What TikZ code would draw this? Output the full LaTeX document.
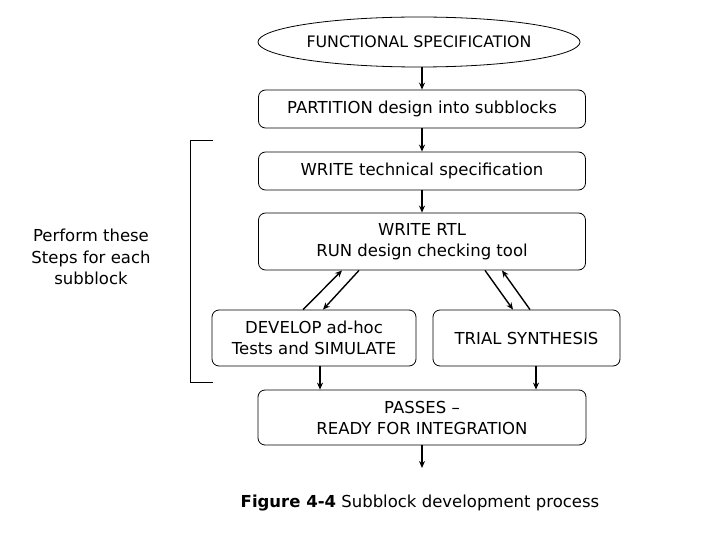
\documentclass[tikz,border=0pt]{standalone}
\usepackage{fontspec}
\setmainfont{DejaVu Sans}
\usetikzlibrary{shapes.geometric,arrows.meta}
\begin{document}
\begin{tikzpicture}[x=1pt,y=-1pt,
  box/.style={draw,rounded corners=7pt,line width=0.8pt,align=center,inner sep=0pt,font=\fontsize{16.5}{21}\selectfont},
  arr/.style={line width=1.4pt,-{Stealth[length=7pt,width=6pt]}},
  lbl/.style={align=center,font=\fontsize{16.5}{21.5}\selectfont}]
\useasboundingbox (0,0) rectangle (720,540);
\node[ellipse,draw,line width=0.8pt,minimum width=322pt,minimum height=50pt,inner sep=0pt,font=\fontsize{15.8}{21}\selectfont] (spec) at (419,42) {FUNCTIONAL SPECIFICATION};
\node[box,minimum width=327pt,minimum height=38pt] (part) at (422,109) {PARTITION design into subblocks};
\node[box,minimum width=327pt,minimum height=38pt] (tech) at (422,171) {WRITE technical specification};
\node[box,minimum width=327pt,minimum height=57pt] (rtl) at (422,241.5) {WRITE RTL\\RUN design checking tool};
\node[box,minimum width=204pt,minimum height=56pt] (dev) at (314,338) {DEVELOP ad-hoc\\Tests and SIMULATE};
\node[box,minimum width=187pt,minimum height=56pt] (trial) at (526.5,338) {TRIAL SYNTHESIS};
\node[box,minimum width=328pt,minimum height=55pt] (pass) at (422,417.5) {PASSES --\\READY FOR INTEGRATION};
\node[lbl] (note) at (91,257) {Perform these\\Steps for each\\subblock};
\node[font=\fontsize{16.5}{18}\selectfont] (cap) at (420,503) {\textbf{Figure 4-4} Subblock development process};
\coordinate (out) at (422,468);
\draw[arr] ([xshift=3pt]spec.south) -- (part.north);
\draw[arr] (part) -- (tech);
\draw[arr] (tech) -- (rtl);
\draw[arr] ([xshift=-11pt]dev.north) -- ([xshift=-80pt]rtl.south);
\draw[arr] ([xshift=-63pt]rtl.south) -- ([xshift=9pt]dev.north);
\draw[arr] ([xshift=63pt]rtl.south) -- ([xshift=-13.5pt]trial.north);
\draw[arr] ([xshift=3.5pt]trial.north) -- ([xshift=80pt]rtl.south);
\draw[arr] ([xshift=6pt]dev.south) -- ([xshift=6pt]dev.south |- pass.north);
\draw[arr] ([xshift=9.5pt]trial.south) -- ([xshift=9.5pt]trial.south |- pass.north);
\draw[arr] (pass.south) -- (out);
\draw[line width=0.8pt] (213,140) -- (190,140) -- (190,382) -- (213,382);
\end{tikzpicture}
\end{document}
